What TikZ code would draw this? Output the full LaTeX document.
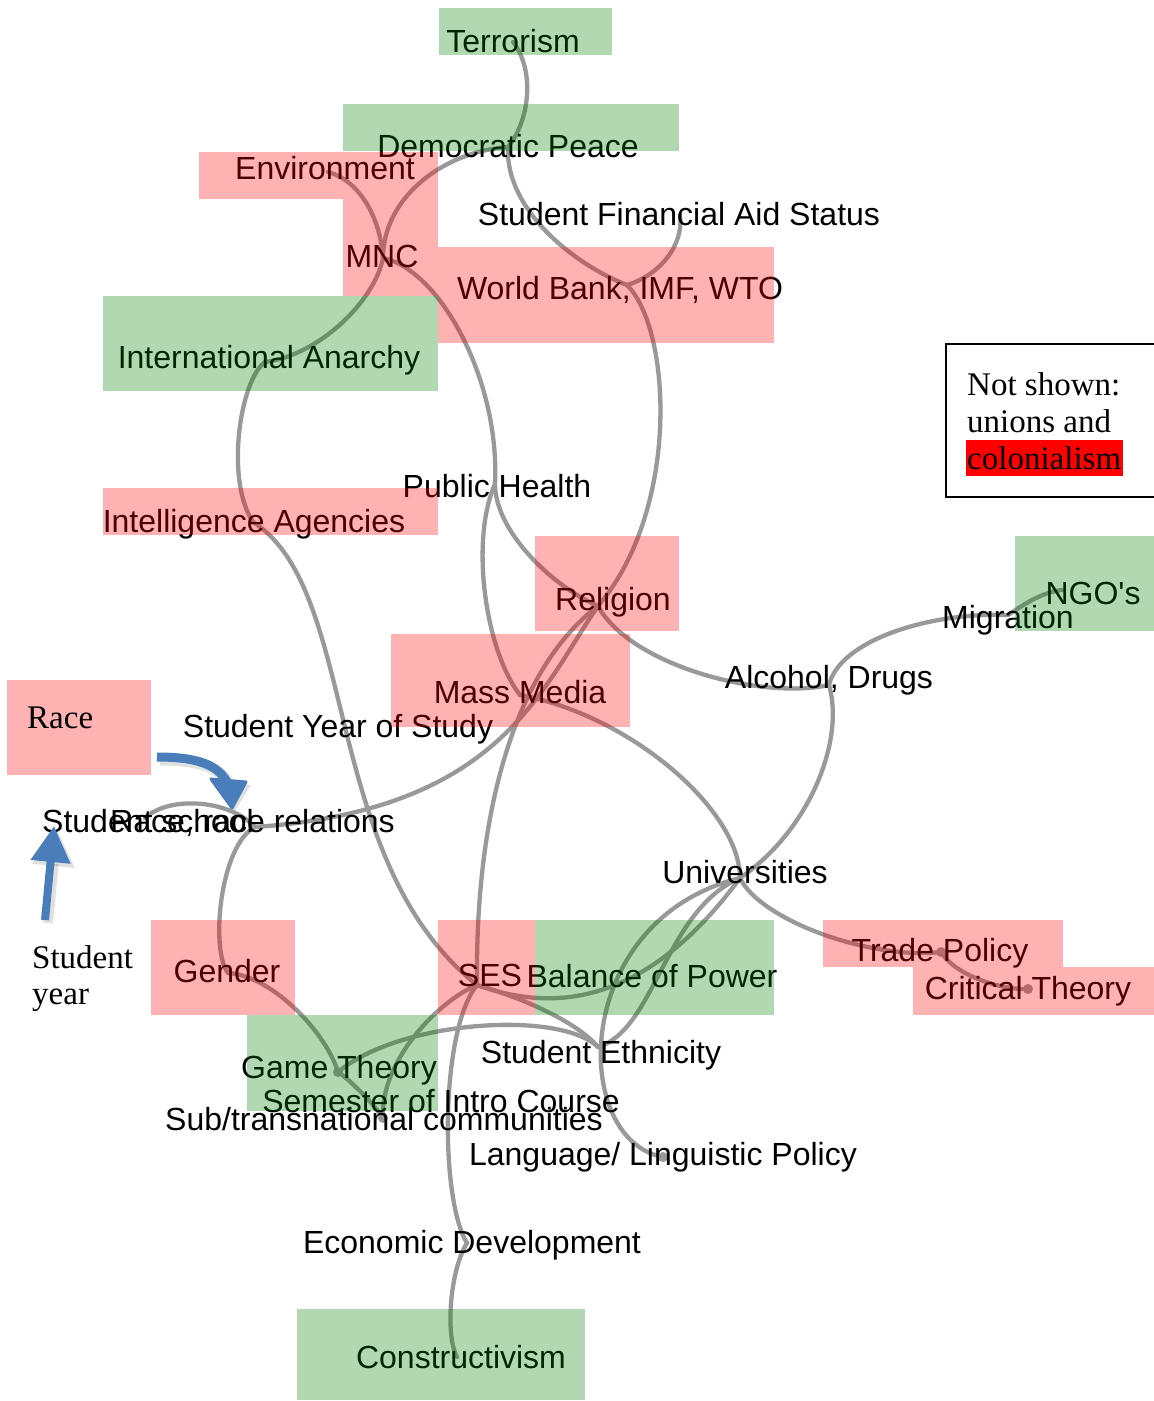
\documentclass[tikz,border=0pt]{standalone}
\usepackage{fontspec}
\setmainfont{Liberation Sans}
\newfontfamily\legserif{Liberation Serif}
\usetikzlibrary{arrows.meta}
\definecolor{linkgray}{RGB}{153,153,153}
\definecolor{boxred}{RGB}{255,0,0}
\definecolor{boxgreen}{RGB}{0,128,0}
\definecolor{arrowblue}{RGB}{74,126,187}
\tikzset{
  lbl/.style={font=\fontsize{32}{38}\selectfont, inner sep=0pt, anchor=base},
  lblw/.style={font=\fontsize{32}{38}\selectfont, inner sep=0pt, anchor=base west},
  serlbl/.style={font=\legserif\fontsize{33}{37}\selectfont, inner sep=0pt, anchor=base west},
  link/.style={draw=linkgray, line width=4.3pt, line cap=round},
  enddot/.style={fill=linkgray, circle, inner sep=0pt, minimum size=10pt},
  redbox/.style={fill=boxred, fill opacity=0.3},
  greenbox/.style={fill=boxgreen, fill opacity=0.3},
  bluearrow/.style={draw=arrowblue, line width=8pt, -{Triangle[width=38pt,length=36pt]}},
  blueshadow/.style={draw=black, draw opacity=0.12, line width=10pt, -{Triangle[width=40pt,length=37pt]}},
  blueshaft/.style={draw=arrowblue, line width=9pt},
  bluehead/.style={fill=arrowblue, draw=arrowblue, line width=3pt, line join=round},
  shadowshaft/.style={draw=black, draw opacity=0.12, line width=11pt},
  shadowhead/.style={fill=black, fill opacity=0.12}
}
\begin{document}
\begin{tikzpicture}[x=1pt,y=-1pt]
\useasboundingbox (0,0) rectangle (1154,1401);
\fill[white] (0,0) rectangle (1154,1401);

% connection points
\coordinate (pT) at (513,42);
\coordinate (pDP) at (508,147);
\coordinate (pEnv) at (328,172);
\coordinate (pMNC) at (383,258);
\coordinate (pSFA) at (680,215);
\coordinate (pWB) at (627,285);
\coordinate (pIA) at (265,362);
\coordinate (pIntA) at (253,522);
\coordinate (pPH) at (495,484);
\coordinate (pRel) at (598,606);
\coordinate (pMM) at (520,695);
\coordinate (pAD) at (829,685);
\coordinate (pMig) at (1008,615);
\coordinate (pNGO) at (1062,590);
\coordinate (pSS) at (145,818);
\coordinate (pRR) at (255,827);
\coordinate (pUniv) at (740,878);
\coordinate (pGender) at (228,973);
\coordinate (pSES) at (477,985);
\coordinate (pTP) at (941,952);
\coordinate (pCT) at (1028,989);
\coordinate (pSE) at (598,1047);
\coordinate (pGT) at (338,1072);
\coordinate (pSTC) at (383,1118);
\coordinate (pLLP) at (663,1157);
\coordinate (pED) at (467,1243);
\coordinate (pCon) at (457,1357);

% Race box (under its text)
\fill[fill=boxred, fill opacity=0.3] (7,680) rectangle (151,775);

% links
\draw[link] (pT) .. controls (535,70) and (530,120) .. (pDP);
\draw[link] (pDP) .. controls (505,210) and (575,265) .. (pWB);
\draw[link] (pSFA) .. controls (684,245) and (660,275) .. (pWB);
\draw[link] (pWB) .. controls (672,330) and (680,510) .. (pRel);
\draw[link] (pEnv) .. controls (358,180) and (380,215) .. (pMNC);
\draw[link] (pIA) .. controls (320,355) and (375,300) .. (pMNC);
\draw[link] (pMNC) .. controls (383,200) and (440,152) .. (pDP);
\draw[link] (pMNC) .. controls (440,270) and (500,380) .. (pPH);
\draw[link] (pIA) .. controls (240,380) and (225,480) .. (pIntA);
\draw[link] (pIntA) .. controls (360,590) and (320,860) .. (pSES);
\draw[link] (pPH) .. controls (495,530) and (550,585) .. (pRel);
\draw[link] (pRel) .. controls (630,665) and (760,700) .. (pAD);
\draw[link] (pAD) .. controls (840,640) and (930,612) .. (pMig);
\draw[link] (pMig) .. controls (1030,600) and (1045,592) .. (pNGO);
\draw[link] (pAD) .. controls (845,740) and (810,830) .. (pUniv);
\draw[link] (pPH) .. controls (470,540) and (485,650) .. (pMM);
\draw[link] (pMM) .. controls (630,715) and (740,810) .. (pUniv);
\draw[link] (pUniv) .. controls (760,920) and (870,960) .. (pTP);
\draw[link] (pTP) .. controls (955,975) and (1000,990) .. (pCT);
\draw[link] (pRel) .. controls (540,690) and (500,810) .. (pRR);
\draw[link] (pRel) .. controls (520,665) and (475,800) .. (pSES);
\draw[link] (pSS) .. controls (170,795) and (230,800) .. (pRR);
\draw[link] (pRR) .. controls (220,845) and (210,950) .. (pGender);
\draw[link] (pGender) .. controls (270,975) and (325,1030) .. (pGT);
\draw[link] (pGT) .. controls (350,1080) and (375,1105) .. (pSTC);
\draw[link] (pGT) .. controls (400,1020) and (560,1010) .. (pSE);
\draw[link] (pSTC) .. controls (380,1060) and (440,1000) .. (pSES);
\draw[link] (pSES) .. controls (560,1015) and (650,1000) .. (pUniv);
\draw[link] (pSES) .. controls (530,1000) and (580,1025) .. (pSE);
\draw[link] (pUniv) .. controls (570,920) and (570,1140) .. (pLLP);
\draw[link] (pUniv) .. controls (665,910) and (655,1030) .. (pSE);
\draw[link] (pSES) .. controls (440,1030) and (440,1200) .. (pED);
\draw[link] (pED) .. controls (450,1270) and (445,1335) .. (pCon);

\node[enddot] (dTP) at (pTP) {};
\node[enddot] (dCT) at (pCT) {};
\node[enddot] (dGT) at (pGT) {};
\node[enddot] (dSTC) at (pSTC) {};
\node[enddot] (dLLP) at (pLLP) {};

% labels
\node[lbl] (tT) at (513,52) {Terrorism};
\node[lbl] (tDP) at (508,157) {Democratic Peace};
\node[lbl] (tEnv) at (325,179) {Environment};
\node[lbl] (tMNC) at (382,267) {MNC};
\node[lbl] (tSFA) at (679,225) {Student Financial Aid Status};
\node[lbl] (tWB) at (620,299) {World Bank, IMF, WTO};
\node[lbl] (tIA) at (269,368) {International Anarchy};
\node[lbl] (tIntA) at (254,532) {Intelligence Agencies};
\node[lbl] (tPH) at (497,497) {Public Health};
\node[lbl] (tRel) at (613,610) {Religion};
\node[lbl] (tMM) at (520,703) {Mass Media};
\node[lbl] (tAD) at (829,688) {Alcohol, Drugs};
\node[lbl] (tMig) at (1008,628) {Migration};
\node[lbl] (tNGO) at (1093,604) {NGO\textquotesingle s};
\node[lbl] (tSYS) at (338,737) {Student Year of Study};
\node[serlbl] (tRace) at (27,728) {Race};
\node[lblw] (tSS) at (42,832) {Student school};
\node[lblw] (tRR) at (110,832) {Race, race relations};
\node[lbl] (tUniv) at (745,883) {Universities};
\node[lbl] (tGender) at (227,982) {Gender};
\node[lbl] (tSES) at (490,986) {SES};
\node[lbl] (tBoP) at (652,987) {Balance of Power};
\node[lbl] (tTP) at (940,961) {Trade Policy};
\node[lbl] (tCT) at (1028,999) {Critical Theory};
\node[lbl] (tSE) at (601,1063) {Student Ethnicity};
\node[lbl] (tGT) at (339,1078) {Game Theory};
\node[lbl] (tSIC) at (441,1112) {Semester of Intro Course};
\node[lbl] (tSTC) at (384,1130) {Sub/transnational communities};
\node[lbl] (tLLP) at (663,1165) {Language/ Linguistic Policy};
\node[lbl] (tED) at (472,1253) {Economic Development};
\node[lbl] (tCon) at (461,1368) {Constructivism};
\node[serlbl] (tSY1) at (32,968) {Student};
\node[serlbl] (tSY2) at (32,1004) {year};

% legend
\draw[line width=2pt] (946,344) rectangle (1160,497);
\fill[red] (966,440) rectangle (1123,476);
\node[serlbl] (tL1) at (967,395) {Not shown:};
\node[serlbl] (tL2) at (967,432) {unions and};
\node[serlbl] (tL3) at (967,469) {colonialism};

% blue arrows
\coordinate (aS1) at (45,920);
\coordinate (aE1) at (54,826);
\coordinate (aS2) at (157,757);
\coordinate (aM2) at (228,784);
\coordinate (aE2) at (232,808);
\draw[blueshadow] ([shift={(3,3)}]aS1) -- ([shift={(3,3)}]aE1);
\draw[shadowshaft] ([shift={(3,3)}]aS2) .. controls (201,760) and (222,768) .. ([shift={(3,3)}]aM2);
\fill[shadowhead] (213,782) -- (251,785) -- (235,811) -- cycle;
\draw[bluearrow] (aS1) -- (aE1);
\draw[blueshaft] (aS2) .. controls (198,757) and (219,765) .. (aM2);
\filldraw[bluehead] (211,779) -- (246,782) -- (aE2) -- cycle;

% translucent boxes on top
\fill[greenbox] (439,8) rectangle (612,55);
\fill[greenbox] (343,104) rectangle (679,151);
\fill[redbox] (199,152) rectangle (343,199);
\fill[redbox] (343,152) rectangle (438,296);
\fill[redbox] (438,247) rectangle (774,343);
\fill[greenbox] (103,296) rectangle (438,391);
\fill[redbox] (103,488) rectangle (438,535);
\fill[redbox] (535,536) rectangle (679,631);
\fill[greenbox] (1015,536) rectangle (1154,631);
\fill[redbox] (391,634) rectangle (630,727);
\fill[redbox] (151,920) rectangle (295,1015);
\fill[redbox] (438,920) rectangle (535,1015);
\fill[greenbox] (535,920) rectangle (774,1015);
\fill[redbox] (823,920) rectangle (1063,967);
\fill[redbox] (913,967) rectangle (1154,1015);
\fill[greenbox] (247,1015) rectangle (438,1111);
\fill[greenbox] (297,1309) rectangle (585,1400);
\end{tikzpicture}
\end{document}
